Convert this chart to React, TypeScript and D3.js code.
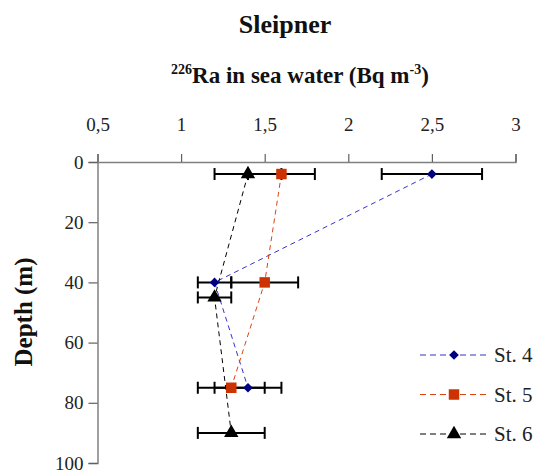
import React, { useEffect, useRef } from 'react';
import * as d3 from 'd3';

// station profiles: depth (m), 226Ra (Bq m-3), error
const st4Depth = [4, 40, 75];
const st4Value = [2.5, 1.2, 1.4];
const st4Err = [0.3, 0.1, 0.2];

const st5Depth = [4, 40, 75];
const st5Value = [1.6, 1.5, 1.3];
const st5Err = [0.2, 0.2, 0.2];

const st6Depth = [4, 45, 90];
const st6Value = [1.4, 1.2, 1.3];
const st6Err = [0.2, 0.1, 0.2];

const xTicks = [0.5, 1, 1.5, 2, 2.5, 3];
const yTicks = [0, 20, 40, 60, 80, 100];
const stationNames = ['St. 4', 'St. 5', 'St. 6'];

const W = 537;
const H = 474;

const App = () => {
  const ref = useRef<SVGSVGElement>(null);

  useEffect(() => {
    const svg = d3.select(ref.current);
    svg.selectAll('*').remove();

    const font = 'Liberation Serif, DejaVu Serif, serif';

    const x = d3.scaleLinear().domain([0.5, 3]).range([97.5, 515.5]);
    const y = d3.scaleLinear().domain([0, 100]).range([162, 463]);

    const series = [
      { name: stationNames[0], depth: st4Depth, value: st4Value, err: st4Err, line: '#3333cc', fill: '#000080', symbol: d3.symbolDiamond2, size: 60 },
      { name: stationNames[1], depth: st5Depth, value: st5Value, err: st5Err, line: '#dd4411', fill: '#cc3300', symbol: d3.symbolSquare, size: 110 },
      { name: stationNames[2], depth: st6Depth, value: st6Value, err: st6Err, line: '#000000', fill: '#000000', symbol: d3.symbolTriangle, size: 90 },
    ];

    const root = svg.append('g').attr('font-family', font);

    // title
    root.append('text')
      .attr('x', 285).attr('y', 33)
      .attr('text-anchor', 'middle')
      .attr('font-size', 26).attr('font-weight', 'bold')
      .attr('fill', '#111')
      .text('Sleipner');

    const xt = root.append('text')
      .attr('x', 300).attr('y', 83)
      .attr('text-anchor', 'middle')
      .attr('font-size', 23).attr('font-weight', 'bold')
      .attr('fill', '#111');
    xt.append('tspan').attr('font-size', 14).attr('dy', '-9').text('226');
    xt.append('tspan').attr('dy', '9').text('Ra in sea water (Bq m');
    xt.append('tspan').attr('font-size', 14).attr('dy', '-9').text('-3');
    xt.append('tspan').attr('dy', '9').text(')');

    // x axis on top
    const gx = root.append('g').attr('transform', 'translate(0,162)')
      .call(d3.axisTop(x).tickValues(xTicks).tickSize(8).tickPadding(23)
        .tickFormat(d => String(d).replace('.', ',')));
    gx.attr('font-family', font).attr('font-size', 19);
    gx.select('.domain').attr('stroke', '#808080').attr('stroke-width', 1.5);
    gx.selectAll('.tick line').attr('stroke', '#606060').attr('stroke-width', 1.2);
    gx.selectAll('text').attr('fill', '#222');

    // y axis
    const gy = root.append('g').attr('transform', 'translate(97.5,0)')
      .call(d3.axisLeft(y).tickValues(yTicks).tickSize(9).tickPadding(5));
    gy.attr('font-family', font).attr('font-size', 19);
    gy.select('.domain').attr('stroke', '#808080').attr('stroke-width', 1.5);
    gy.selectAll('.tick line').attr('stroke', '#606060').attr('stroke-width', 1.2);
    gy.selectAll('text').attr('fill', '#222');

    root.append('text')
      .attr('transform', 'translate(32,312) rotate(-90)')
      .attr('text-anchor', 'middle')
      .attr('font-size', 25).attr('font-weight', 'bold')
      .attr('fill', '#111')
      .text('Depth (m)');

    const line = d3.line<[number, number]>();

    series.forEach(s => {
      const pts = s.depth.map((d, i) => [x(s.value[i]), y(d)] as [number, number]);

      root.append('path')
        .attr('d', line(pts))
        .attr('fill', 'none')
        .attr('stroke', s.line)
        .attr('stroke-width', 1)
        .attr('stroke-dasharray', '5,4');

      // error bars
      const eb = root.append('g').attr('stroke', '#000').attr('stroke-width', 2);
      s.depth.forEach((d, i) => {
        const x0 = x(s.value[i] - s.err[i]);
        const x1 = x(s.value[i] + s.err[i]);
        const yy = y(d);
        eb.append('line').attr('x1', x0).attr('x2', x1).attr('y1', yy).attr('y2', yy);
        eb.append('line').attr('x1', x0).attr('x2', x0).attr('y1', yy - 6).attr('y2', yy + 6);
        eb.append('line').attr('x1', x1).attr('x2', x1).attr('y1', yy - 6).attr('y2', yy + 6);
      });
    });

    series.forEach(s => {
      root.append('g').selectAll('path')
        .data(s.depth)
        .enter().append('path')
        .attr('transform', (d, i) => `translate(${x(s.value[i])},${y(d)})`)
        .attr('d', d3.symbol().type(s.symbol).size(s.size)())
        .attr('fill', s.fill);
    });

    // legend
    series.forEach((s, i) => {
      const ly = 355 + i * 39.5;
      root.append('line')
        .attr('x1', 420).attr('x2', 488).attr('y1', ly).attr('y2', ly)
        .attr('stroke', s.line).attr('stroke-width', 1).attr('stroke-dasharray', '6,4');
      root.append('path')
        .attr('transform', `translate(454,${ly})`)
        .attr('d', d3.symbol().type(s.symbol).size(s.size)())
        .attr('fill', s.fill);
      root.append('text')
        .attr('x', 494).attr('y', ly + 7)
        .attr('font-size', 21).attr('fill', '#222')
        .text(s.name);
    });
  }, []);

  return <svg ref={ref} width={W} height={H} style={{ position: 'absolute', left: 0, top: 0, background: '#fff' }} />;
};

export default App;
